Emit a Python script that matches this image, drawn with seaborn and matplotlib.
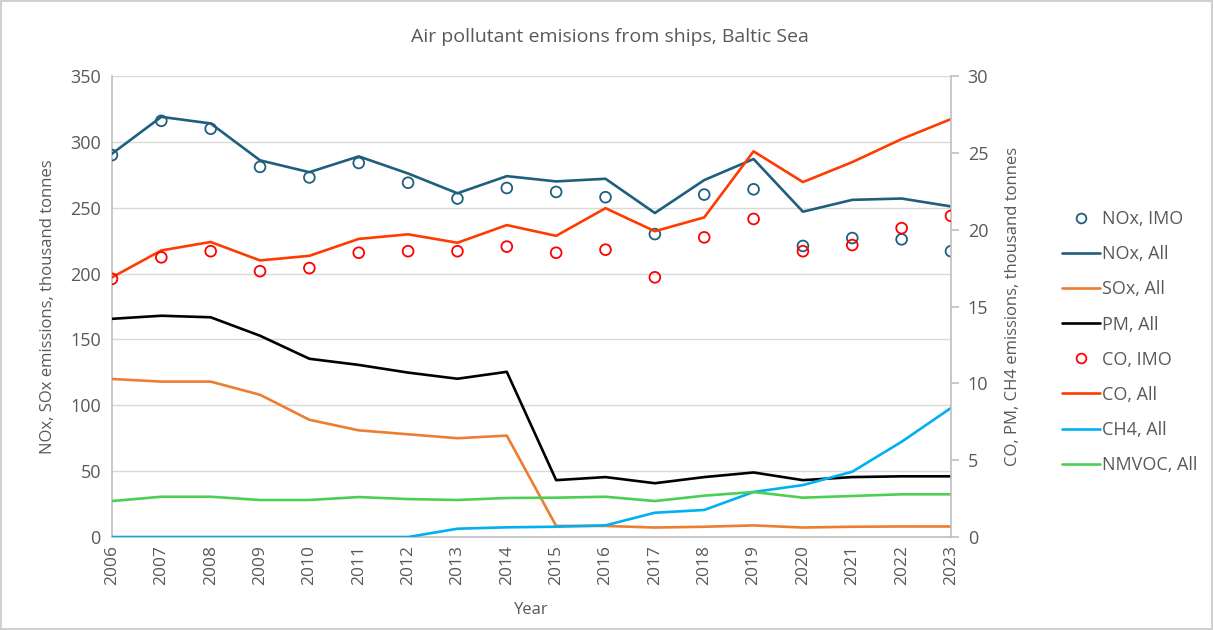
import numpy as np
import pandas as pd
import matplotlib
matplotlib.use('Agg')
import matplotlib.pyplot as plt
import seaborn as sns
from matplotlib.lines import Line2D

# Data
years = list(range(2006, 2024))

# left axis, thousand tonnes
nox_imo = [290, 316, 310, 281, 273, 284, 269, 257, 265, 262, 258, 230, 260, 264, 221, 227, 226, 217]
nox_all = [291, 319, 314, 286, 277, 289, 276, 261, 274, 270, 272, 246, 271, 287, 247, 256, 257, 251]
sox_all = [120, 118, 118, 108, 89, 81, 78, 75, 77, 8.4, 8.4, 7.2, 7.8, 8.8, 7.2, 7.8, 8.0, 8.0]

# right axis, thousand tonnes
pm_all = [14.2, 14.4, 14.3, 13.1, 11.6, 11.2, 10.7, 10.3, 10.75, 3.7, 3.9, 3.5, 3.9, 4.2, 3.7, 3.9, 3.95, 3.95]
co_imo = [16.8, 18.2, 18.6, 17.3, 17.5, 18.5, 18.6, 18.6, 18.9, 18.5, 18.7, 16.9, 19.5, 20.7, 18.6, 19.0, 20.1, 20.9]
co_all = [16.9, 18.65, 19.2, 18.0, 18.3, 19.4, 19.7, 19.15, 20.3, 19.6, 21.4, 19.9, 20.8, 25.1, 23.1, 24.4, 25.9, 27.2]
ch4_all = [0, 0, 0, 0, 0, 0, 0, 0.54, 0.63, 0.67, 0.76, 1.58, 1.76, 2.93, 3.38, 4.25, 6.2, 8.4]
nmvoc_all = [2.34, 2.62, 2.62, 2.41, 2.41, 2.6, 2.47, 2.41, 2.54, 2.56, 2.62, 2.34, 2.69, 2.93, 2.56, 2.67, 2.78, 2.78]

df = pd.DataFrame({'Year': years, 'nox_imo': nox_imo, 'nox_all': nox_all, 'sox_all': sox_all,
                   'pm_all': pm_all, 'co_imo': co_imo, 'co_all': co_all,
                   'ch4_all': ch4_all, 'nmvoc_all': nmvoc_all})

sns.set_style('white')
plt.rcParams['font.family'] = ['Open Sans', 'DejaVu Sans']

grey = '#595959'
c_nox = '#1f5f7e'
c_sox = '#ed7d31'
c_pm = '#000000'
c_co = '#ff3c00'
c_co_imo = '#ff0000'
c_ch4 = '#00b0f0'
c_nmvoc = '#4ccf55'
lw = 1.9
ms = 60
mew = 1.3

fig = plt.figure(figsize=(12.13, 6.3), dpi=100)
fig.patch.set_edgecolor('#d0d0d0')
fig.patch.set_linewidth(1.5)
ax = fig.add_axes([0.0923, 0.1476, 0.6917, 0.7317])
ax2 = ax.twinx()

# left axis series
sns.lineplot(data=df, x='Year', y='nox_all', ax=ax, color=c_nox, linewidth=lw, zorder=3)
sns.lineplot(data=df, x='Year', y='sox_all', ax=ax, color=c_sox, linewidth=lw, zorder=3)
sns.scatterplot(data=df, x='Year', y='nox_imo', ax=ax, s=ms, facecolor='none',
                edgecolor=c_nox, linewidth=mew, zorder=4)

# right axis series
sns.lineplot(data=df, x='Year', y='pm_all', ax=ax2, color=c_pm, linewidth=lw)
sns.lineplot(data=df, x='Year', y='co_all', ax=ax2, color=c_co, linewidth=lw)
sns.lineplot(data=df, x='Year', y='ch4_all', ax=ax2, color=c_ch4, linewidth=lw)
sns.lineplot(data=df, x='Year', y='nmvoc_all', ax=ax2, color=c_nmvoc, linewidth=lw)
sns.scatterplot(data=df, x='Year', y='co_imo', ax=ax2, s=ms, facecolor='none',
                edgecolor=c_co_imo, linewidth=mew, zorder=4)

ax.set_xlim(2006, 2023)
ax.set_ylim(0, 350)
ax2.set_ylim(0, 30)
ax.set_yticks(range(0, 351, 50))
ax2.set_yticks(range(0, 31, 5))
ax.set_xticks(years)
ax.set_xticklabels([str(y) for y in years], rotation=90)

ax.grid(axis='y', color='#d9d9d9', linewidth=1)
ax.set_axisbelow(True)

for a in (ax, ax2):
    for s in a.spines.values():
        s.set_visible(False)
ax.spines['left'].set_visible(True)
ax.spines['bottom'].set_visible(True)
ax2.spines['right'].set_visible(True)
for s in (ax.spines['left'], ax.spines['bottom'], ax2.spines['right']):
    s.set_color('#bfbfbf')
    s.set_linewidth(1.2)

ax.tick_params(axis='y', length=0, labelsize=13, labelcolor=grey, pad=8)
ax.tick_params(axis='x', length=0, labelsize=12.5, labelcolor=grey, pad=6)
ax2.tick_params(axis='y', length=6, color='#bfbfbf', width=1.2, labelsize=13, labelcolor=grey, pad=6)

ax.set_xlabel('Year', fontsize=12, color=grey, labelpad=12)
ax.set_ylabel('NOx, SOx emissions, thousand tonnes', fontsize=12, color=grey, labelpad=10)
ax2.set_ylabel('CO, PM, CH4 emissions, thousand tonnes', fontsize=12, color=grey, labelpad=12)

fig.suptitle('Air pollutant emisions from ships, Baltic Sea', x=0.503, y=0.955, fontsize=14, color=grey)

handles = [
    Line2D([], [], linestyle='none', marker='o', markerfacecolor='none', markeredgecolor=c_nox, markersize=7, markeredgewidth=mew),
    Line2D([], [], color=c_nox, linewidth=lw),
    Line2D([], [], color=c_sox, linewidth=lw),
    Line2D([], [], color=c_pm, linewidth=lw),
    Line2D([], [], linestyle='none', marker='o', markerfacecolor='none', markeredgecolor=c_co_imo, markersize=7, markeredgewidth=mew),
    Line2D([], [], color=c_co, linewidth=lw),
    Line2D([], [], color=c_ch4, linewidth=lw),
    Line2D([], [], color=c_nmvoc, linewidth=lw),
]
labels = ['NOx, IMO', 'NOx, All', 'SOx, All', 'PM, All', 'CO, IMO', 'CO, All', 'CH4, All', 'NMVOC, All']
leg = fig.legend(handles, labels, loc='center left', bbox_to_anchor=(0.862, 0.457), frameon=False,
                 fontsize=13, labelcolor=grey, handlelength=2.1, handletextpad=0.1, labelspacing=0.95)

fig.savefig('out.png', dpi=100, edgecolor=fig.get_edgecolor())
